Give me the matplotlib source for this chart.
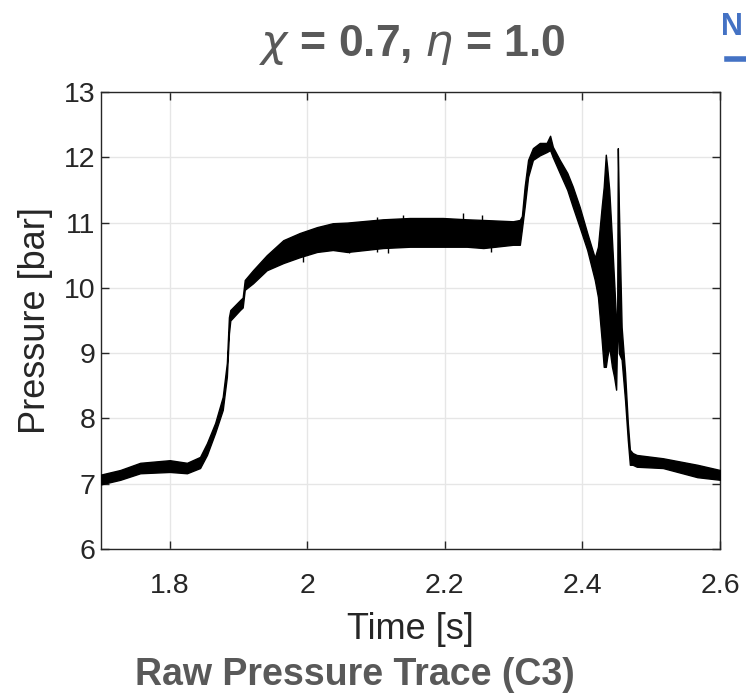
import matplotlib
matplotlib.use("Agg")
import matplotlib.pyplot as plt
import numpy as np

# Raw pressure trace, stored as lower / upper envelope of the noisy signal
time_s = [1.700, 1.728, 1.757, 1.800, 1.825, 1.844, 1.854, 1.866, 1.877, 1.883,
          1.886, 1.888, 1.902, 1.906, 1.909, 1.921, 1.941, 1.965, 1.989, 2.014,
          2.037, 2.058, 2.110, 2.149, 2.197, 2.232, 2.256, 2.299, 2.309, 2.312,
          2.316, 2.321, 2.328, 2.338, 2.348, 2.353, 2.357, 2.367, 2.378, 2.386,
          2.396, 2.407, 2.418, 2.4226, 2.428, 2.431, 2.434, 2.436, 2.439, 2.443,
          2.446, 2.449, 2.4505, 2.4515, 2.453, 2.457, 2.462, 2.466, 2.469, 2.473,
          2.479, 2.517, 2.567, 2.600]
pressure_lo = [6.99, 7.06, 7.16, 7.18, 7.16, 7.24, 7.44, 7.78, 8.13, 8.64,
               9.30, 9.50, 9.66, 9.70, 9.97, 10.07, 10.27, 10.38, 10.47, 10.55,
               10.58, 10.55, 10.61, 10.63, 10.63, 10.63, 10.61, 10.66, 10.66, 10.90,
               11.24, 11.70, 11.96, 12.03, 12.08, 12.11, 12.00, 11.76, 11.50, 11.24,
               10.93, 10.58, 10.12, 9.86, 9.20, 8.79, 8.79, 8.94, 9.10, 8.79,
               8.64, 8.44, 9.30, 9.40, 9.00, 8.90, 8.28, 7.67, 7.29, 7.29,
               7.26, 7.24, 7.10, 7.06]
pressure_hi = [7.14, 7.21, 7.32, 7.36, 7.32, 7.41, 7.62, 7.93, 8.33, 8.85,
               9.55, 9.66, 9.81, 9.85, 10.12, 10.27, 10.50, 10.73, 10.84, 10.93,
               10.99, 11.00, 11.05, 11.07, 11.07, 11.05, 11.04, 11.02, 11.04, 11.10,
               11.55, 11.96, 12.14, 12.22, 12.22, 12.33, 12.16, 11.96, 11.76, 11.55,
               11.24, 10.84, 10.46, 10.63, 11.24, 11.55, 12.04, 11.85, 11.50, 10.73,
               10.12, 9.50, 9.50, 12.14, 11.24, 9.40, 8.70, 7.93, 7.52, 7.47,
               7.44, 7.39, 7.29, 7.21]

# Isolated noise spikes on the plateau: time, low, high
spike_t = [1.9937, 2.0606, 2.101, 2.117, 2.139, 2.226, 2.254, 2.267]
spike_lo = [10.40, 10.53, 10.55, 10.53, 10.70, 10.70, 10.70, 10.55]
spike_hi = [10.80, 10.90, 11.09, 10.95, 11.12, 11.14, 11.12, 11.00]

x_ticks = [1.8, 2.0, 2.2, 2.4, 2.6]
x_tick_labels = ["1.8", "2", "2.2", "2.4", "2.6"]
y_ticks = [6, 7, 8, 9, 10, 11, 12, 13]

title_text = r"$\chi$ = 0.7, $\eta$ = 1.0"
caption_text = "Raw Pressure Trace (C3)"

fig = plt.figure(figsize=(7.46, 6.95), dpi=100)
ax = fig.add_axes([0.1354, 0.2101, 0.8297, 0.6575])

ax.fill_between(time_s, pressure_lo, pressure_hi, color="black", lw=1.0,
                edgecolor="black", zorder=3)
ax.vlines(spike_t, spike_lo, spike_hi, color="black", lw=1.0, zorder=3)

ax.set_xlim(1.7, 2.6)
ax.set_ylim(6, 13)
ax.set_xticks(x_ticks)
ax.set_xticklabels(x_tick_labels)
ax.set_yticks(y_ticks)

ax.grid(True, color="#e6e6e6", lw=1.0, zorder=0)
ax.set_axisbelow(True)
for sp in ax.spines.values():
    sp.set_color("#262626")
    sp.set_linewidth(1.0)
ax.tick_params(direction="in", length=6, width=1.0, colors="#262626",
               top=True, right=True, labelsize=20.5)
ax.tick_params(axis="x", pad=17)
ax.tick_params(axis="y", pad=4)
for lab in ax.get_xticklabels() + ax.get_yticklabels():
    lab.set_fontfamily("Liberation Sans")
    lab.set_color("#262626")

ax.set_xlabel("Time [s]", fontsize=26, family="Liberation Sans",
              color="#262626", labelpad=10)
ax.set_ylabel("Pressure [bar]", fontsize=26, family="Liberation Sans",
              color="#262626", labelpad=8)

fig.text(0.552, 0.935, title_text, fontsize=32, fontweight="bold",
         color="#595959", ha="center", va="center",
         family="Liberation Sans")
fig.text(0.476, 0.029, caption_text, fontsize=27, fontweight="bold",
         color="#595959", ha="center", va="center",
         family="Liberation Sans")

# Fragment of neighbouring blue heading at the right edge
fig.text(0.966, 0.961, "N", fontsize=22, fontweight="bold", color="#4472C4",
         ha="left", va="center", family="Liberation Sans")
fig.add_artist(plt.Line2D([0.975, 1.0], [0.915, 0.915], color="#4472C4",
                          lw=4, transform=fig.transFigure))

fig.savefig("out.png", dpi=100)
